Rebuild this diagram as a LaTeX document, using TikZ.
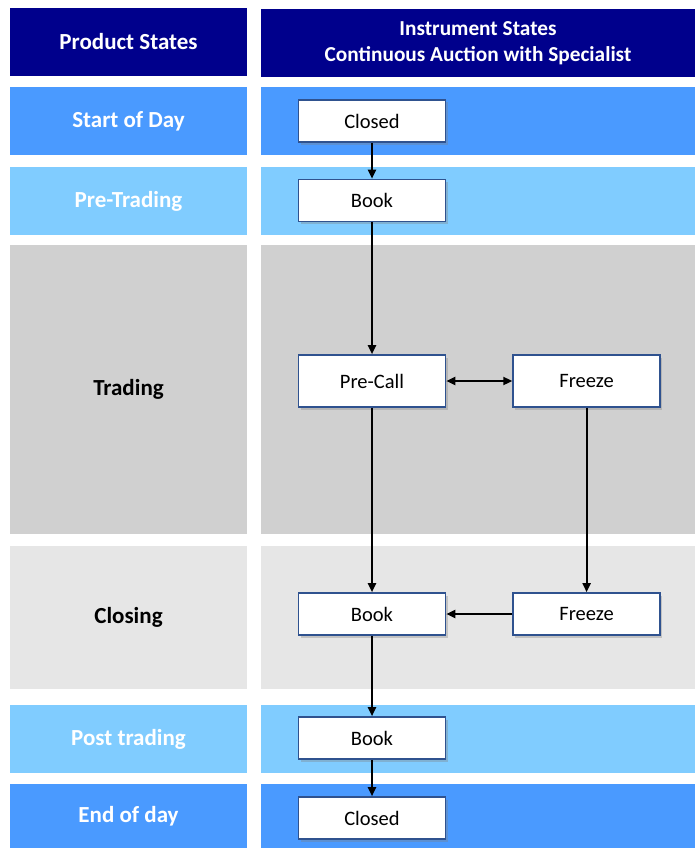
\documentclass[tikz,border=0pt]{standalone}
\usepackage{fontspec}
\setmainfont{Carlito}
\usetikzlibrary{positioning, shadows, arrows.meta}
\definecolor{navy}{RGB}{0,0,140}
\definecolor{dayblue}{RGB}{74,154,255}
\definecolor{lightblue}{RGB}{128,204,255}
\definecolor{tradegray}{RGB}{208,208,208}
\definecolor{closegray}{RGB}{230,230,230}
\definecolor{boxblue}{RGB}{47,82,143}
\tikzstyle{band} = [rectangle, inner sep=0pt, align=center, font=\fontsize{23}{28}\selectfont\bfseries]
\tikzstyle{lhs} = [band, minimum width=237pt]
\tikzstyle{rhs} = [band, minimum width=434pt]
\tikzstyle{state} = [rectangle, minimum width=147pt, minimum height=42pt, text centered, draw=boxblue, line width=1.6pt, fill=white, font=\fontsize{20.5}{24}\selectfont, drop shadow={opacity=0.35, shadow xshift=2pt, shadow yshift=-2.5pt}]
\tikzstyle{flow} = [-{Triangle[length=9pt, width=8pt]}, line width=2pt]

\begin{document}
\begin{tikzpicture}[x=1pt, y=-1pt]
		\useasboundingbox (0,0) rectangle (695,848);
		% rows
		\node (Product)[lhs, minimum height=68pt, fill=navy, text=white] at (128.5,42) {Product States};
		\node (Instrument)[rhs, minimum height=68pt, fill=navy, text=white, font=\fontsize{21.3}{26}\selectfont\bfseries] at (478,43) {Instrument States\\Continuous Auction with Specialist};
		\node (Start)[lhs, minimum height=68pt, fill=dayblue, text=white] at (128.5,121) {Start of Day};
		\node (Start R)[rhs, minimum height=68pt, fill=dayblue] at (478,121) {};
		\node (Pre)[lhs, minimum height=68pt, fill=lightblue, text=white] at (128.5,201) {Pre-Trading};
		\node (Pre R)[rhs, minimum height=68pt, fill=lightblue] at (478,201) {};
		\node (Trading)[lhs, minimum height=289pt, fill=tradegray] at (128.5,389.5) {Trading};
		\node (Trading R)[rhs, minimum height=289pt, fill=tradegray] at (478,389.5) {};
		\node (Closing)[lhs, minimum height=143pt, fill=closegray] at (128.5,617.5) {Closing};
		\node (Closing R)[rhs, minimum height=143pt, fill=closegray] at (478,617.5) {};
		\node (Post)[lhs, minimum height=68pt, fill=lightblue, text=white] at (128.5,739) {Post trading};
		\node (Post R)[rhs, minimum height=68pt, fill=lightblue] at (478,739) {};
		\node (End)[lhs, minimum height=64pt, fill=dayblue, text=white] at (128.5,816) {End of day};
		\node (End R)[rhs, minimum height=64pt, fill=dayblue] at (478,816) {};
		% states
		\node (Closed Open)[state] at (372,121) {Closed};
		\node (Book Pre)[state] at (372,200.5) {Book};
		\node (Pre-Call)[state, minimum height=52pt] at (372,381) {Pre-Call};
		\node (Freeze Trading)[state, minimum height=52pt, right = 66pt of Pre-Call] {Freeze};
		\node (Book Closing)[state] at (372,614) {Book};
		\node (Freeze Closing)[state, right = 66pt of Book Closing] {Freeze};
		\node (Book Post)[state] at (372,738) {Book};
		\node (Closed End)[state] at (372,818) {Closed};
		\draw [flow] (Closed Open) -- (Book Pre);
		\draw [flow] (Book Pre) -- (Pre-Call);
		\draw [flow, {Triangle[length=9pt, width=8pt]}-{Triangle[length=9pt, width=8pt]}] (Pre-Call) -- (Freeze Trading);
		\draw [flow] (Pre-Call) -- (Book Closing);
		\draw [flow] (Freeze Trading) -- (Freeze Closing);
		\draw [flow] (Freeze Closing) -- (Book Closing);
		\draw [flow] (Book Closing) -- (Book Post);
		\draw [flow] (Book Post) -- (Closed End);
	\end{tikzpicture}
\end{document}
